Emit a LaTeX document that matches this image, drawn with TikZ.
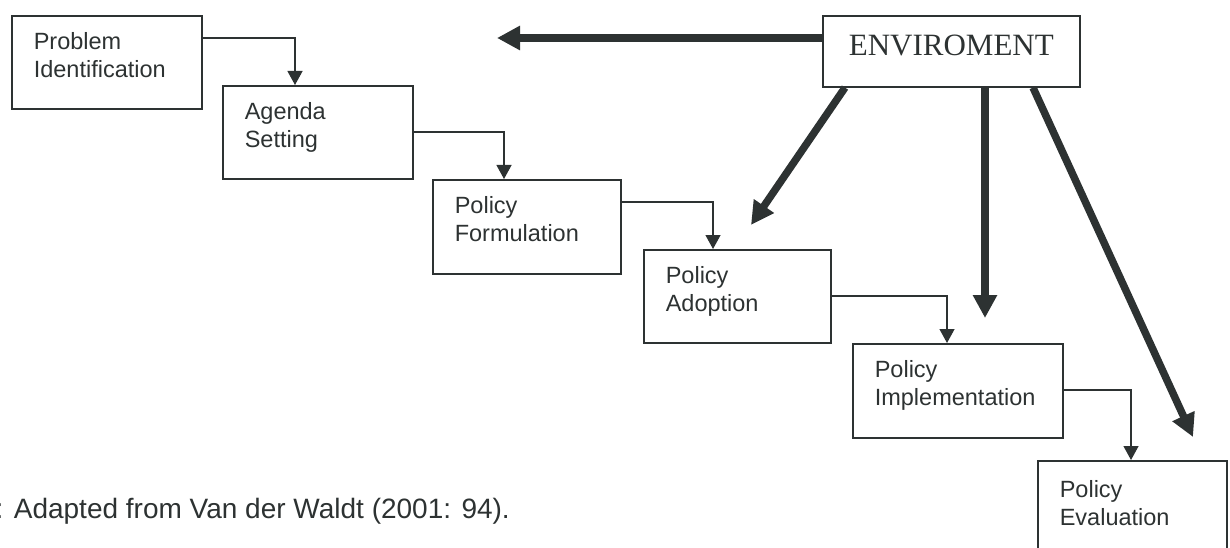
\documentclass[tikz,border=0pt]{standalone}
\usepackage{fontspec}
\setmainfont{Liberation Sans}
\newfontfamily\envfont{Liberation Serif}
\usetikzlibrary{arrows.meta}
\definecolor{ink}{RGB}{45,50,50}
\tikzset{
  box/.style={draw=ink, line width=1.6pt, rectangle, anchor=north west, align=left,
    inner xsep=22pt, inner ysep=0pt, text=ink,
    font=\fontsize{23.5}{28}\selectfont, text height=34pt},
  conn/.style={draw=ink, line width=1.3pt, -{Triangle[length=14pt,width=15pt]}},
  thick/.style={draw=ink, line width=7.5pt, -{Triangle[length=23pt,width=23pt]}},
}
\begin{document}
\begin{tikzpicture}[x=1pt,y=-1pt]
\useasboundingbox (0,0) rectangle (1230,548);
\clip (0,0) rectangle (1230,548);
\node[box, text width=146pt, minimum width=190pt, text depth=59pt] (p1) at (11,15) {Problem\\Identification};
\node[box, text width=146pt, minimum width=190pt, text depth=59pt] (p2) at (222,85) {Agenda\\Setting};
\node[box, text width=144pt, minimum width=188pt, text depth=60pt] (p3) at (432,179) {Policy\\Formulation};
\node[box, text width=143pt, minimum width=187pt, text depth=59pt] (p4) at (643,249) {Policy\\Adoption};
\node[box, text width=166pt, minimum width=210pt, text depth=60pt] (p5) at (852,343) {Policy\\Implementation};
\node[box, text width=145pt, minimum width=189pt, text depth=66pt, text height=37pt] (p6) at (1037,460) {Policy\\Evaluation};
\node[draw=ink, line width=1.6pt, anchor=north west, inner sep=0pt, minimum width=257pt,
  text height=40pt, text depth=31pt, text=ink, font=\envfont\fontsize{31}{36}\selectfont] (env) at (822,15) {ENVIROMENT};
\draw[conn] ([yshift=-23pt]p1.north east) -| ([xshift=73pt]p2.north west);
\draw[conn] ([yshift=-47pt]p2.north east) -| ([xshift=72pt]p3.north west);
\draw[conn] ([yshift=-23pt]p3.north east) -| ([xshift=70pt]p4.north west);
\draw[conn] ([yshift=-47pt]p4.north east) -| ([xshift=95pt]p5.north west);
\draw[conn] ([yshift=-47pt]p5.north east) -| ([xshift=94pt]p6.north west);
\coordinate (tL) at (497,38);
\coordinate (tA) at (751,225);
\coordinate (tI) at (985,318);
\coordinate (tE) at (1193,437);
\draw[thick] ([yshift=-23pt]env.north west) -- (tL);
\draw[thick] ([xshift=23pt]env.south west) -- (tA);
\draw[thick] ([xshift=163pt]env.south west) -- (tI);
\draw[thick] ([xshift=211pt]env.south west) -- (tE);
\node[anchor=base west, inner sep=0pt, text=ink, font=\fontsize{28}{32}\selectfont] (cap) at (-4.5,518) {: Adapted from Van der Waldt (2001: 94).};
\end{tikzpicture}
\end{document}
